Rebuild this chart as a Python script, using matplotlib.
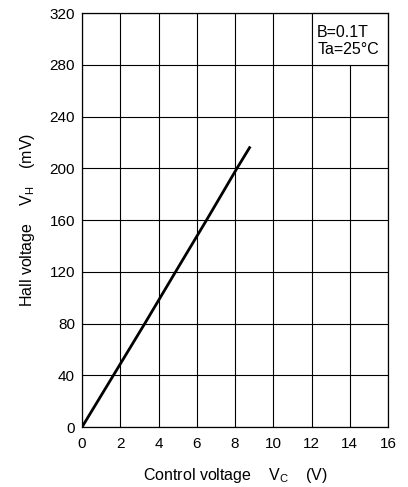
import matplotlib
matplotlib.use("Agg")
import matplotlib.pyplot as plt
from matplotlib.patches import Rectangle

# Hall voltage vs control voltage
vc = [0, 1.64, 3.28, 4.89, 6.51, 8.1, 8.76]
vh = [0, 40, 80, 120, 160, 200, 216]

x_ticks = [0, 2, 4, 6, 8, 10, 12, 14, 16]
y_ticks = [0, 40, 80, 120, 160, 200, 240, 280, 320]

plt.rcParams['font.family'] = ['Liberation Sans', 'DejaVu Sans']
plt.rcParams['mathtext.fontset'] = 'custom'
plt.rcParams['mathtext.rm'] = 'Liberation Sans'
plt.rcParams['mathtext.it'] = 'Liberation Sans'

fig = plt.figure(figsize=(4.08, 4.87), dpi=100)
ax = fig.add_axes([0.201, 0.123, 0.75, 0.85])

ax.set_xlim(0, 16)
ax.set_ylim(0, 320)
ax.set_xticks(x_ticks)
ax.set_yticks(y_ticks)
ax.tick_params(length=0, labelsize=11, colors='black')
ax.tick_params(axis='x', pad=7)
ax.tick_params(axis='y', pad=5)
ax.grid(True, color='black', linewidth=0.8)
for s in ax.spines.values():
    s.set_linewidth(0.9)

ax.plot(vc, vh, color='black', linewidth=2.0, zorder=3)

# condition box in the top right corner
ax.add_patch(Rectangle((12, 280), 4, 40, facecolor='white', edgecolor='black',
                       linewidth=0.8, zorder=2.5, clip_on=False))
ax.text(12.3, 311, 'B=0.1T\nTa=25°C', fontsize=11.5, va='top', ha='left',
        linespacing=1.15, zorder=4)

ax.set_xlabel(r'Control voltage    V$_\mathrm{C}$    (V)', fontsize=11.5, labelpad=11)
ax.set_ylabel(r'Hall voltage    V$_\mathrm{H}$    (mV)', fontsize=11.5, labelpad=9)

fig.savefig('out.png', dpi=100)
